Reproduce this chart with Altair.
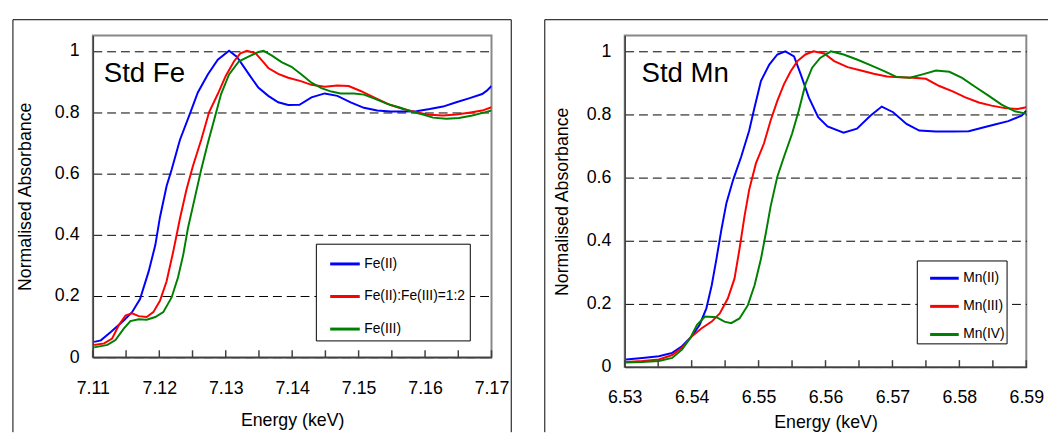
import altair as alt
import pandas as pd

FONT = "Liberation Sans"

# ---------------- Std Fe ----------------
fe_names = ["Fe(II)", "Fe(II):Fe(III)=1:2", "Fe(III)"]
fe_colors = ["#0000FF", "#FF0000", "#008000"]

fe2_e = [7.1102, 7.1112, 7.1127, 7.11465, 7.1159, 7.1171, 7.1184, 7.1194, 7.1201, 7.1211,
         7.12185, 7.1231, 7.1246, 7.1258, 7.1273, 7.1288, 7.1305, 7.1317, 7.1335, 7.1349,
         7.1364, 7.1379, 7.1394, 7.1411, 7.1429, 7.1449, 7.1468, 7.1488, 7.1508, 7.1528,
         7.1548, 7.1567, 7.1587, 7.1607, 7.1627, 7.1647, 7.1666, 7.1686, 7.1693, 7.17]
fe2_a = [0.05, 0.055, 0.082, 0.12, 0.147, 0.19, 0.28, 0.366, 0.457, 0.559,
         0.612, 0.709, 0.794, 0.864, 0.923, 0.971, 1.0, 0.98, 0.923, 0.88,
         0.853, 0.832, 0.823, 0.824, 0.848, 0.861, 0.853, 0.832, 0.814, 0.805,
         0.802, 0.802, 0.803, 0.81, 0.818, 0.832, 0.845, 0.859, 0.87, 0.885]

fe12_e = [7.1102, 7.1117, 7.1129, 7.1139, 7.1149, 7.1159, 7.1169, 7.1181, 7.1191, 7.1201,
          7.1211, 7.1221, 7.1231, 7.1241, 7.12505, 7.1263, 7.1275, 7.1288, 7.13, 7.13125,
          7.1322, 7.1332, 7.1345, 7.1357, 7.1364, 7.1379, 7.1394, 7.1413, 7.1429, 7.1449,
          7.1468, 7.1485, 7.1503, 7.1523, 7.1548, 7.1567, 7.1587, 7.1607, 7.1627, 7.1647,
          7.1666, 7.1686, 7.17]
fe12_a = [0.04, 0.045, 0.061, 0.104, 0.136, 0.143, 0.134, 0.131, 0.147, 0.184,
          0.248, 0.345, 0.452, 0.548, 0.623, 0.709, 0.8, 0.859, 0.918, 0.966,
          0.992, 1.0, 0.992, 0.962, 0.944, 0.925, 0.912, 0.901, 0.889, 0.883,
          0.887, 0.885, 0.869, 0.848, 0.823, 0.81, 0.8, 0.791, 0.789, 0.792,
          0.798, 0.805, 0.816]

fe3_e = [7.1102, 7.1122, 7.1134, 7.11465, 7.11565, 7.1169, 7.1181, 7.1194, 7.1206, 7.12185,
         7.1228, 7.1236, 7.1243, 7.1253, 7.1263, 7.1273, 7.1283, 7.1293, 7.1305, 7.132,
         7.1335, 7.1349, 7.1357, 7.1369, 7.1384, 7.1399, 7.1414, 7.1429, 7.1444, 7.1459,
         7.1473, 7.1493, 7.1508, 7.1523, 7.1543, 7.1563, 7.1582, 7.1597, 7.1612, 7.1632,
         7.1651, 7.1671, 7.1691, 7.17]
fe3_a = [0.032, 0.04, 0.056, 0.093, 0.118, 0.124, 0.122, 0.131, 0.147, 0.195,
         0.259, 0.334, 0.42, 0.516, 0.612, 0.698, 0.778, 0.859, 0.923, 0.966,
         0.982, 0.996, 1.0, 0.985, 0.963, 0.948, 0.923, 0.896, 0.878, 0.867,
         0.861, 0.861, 0.857, 0.845, 0.827, 0.814, 0.8, 0.792, 0.782, 0.778,
         0.781, 0.789, 0.8, 0.805]

fe_label_ticks = [7.11, 7.12, 7.13, 7.14, 7.15, 7.16, 7.17]
fe_minor_ticks = [7.11, 7.115, 7.12, 7.125, 7.13, 7.135, 7.14, 7.145, 7.15, 7.155,
                  7.16, 7.165, 7.17]

# ---------------- Std Mn ----------------
mn_names = ["Mn(II)", "Mn(III)", "Mn(IV)"]
mn_colors = ["#0000FF", "#FF0000", "#008000"]

mn2_e = [6.5302, 6.53265, 6.5351, 6.5371, 6.53855, 6.54, 6.5412, 6.5422, 6.543, 6.5437,
         6.54445, 6.5452, 6.5462, 6.5474, 6.5486, 6.5494, 6.55035, 6.5516, 6.5528, 6.554,
         6.5553, 6.5563, 6.5575, 6.5589, 6.5603, 6.5627, 6.5647, 6.5667, 6.5684, 6.5701,
         6.5721, 6.574, 6.5765, 6.5789, 6.5814, 6.5834, 6.5853, 6.5873, 6.5893, 6.59]
mn2_a = [0.024, 0.029, 0.034, 0.045, 0.066, 0.097, 0.134, 0.186, 0.259, 0.342,
         0.436, 0.52, 0.593, 0.666, 0.749, 0.823, 0.906, 0.958, 0.99, 1.0,
         0.984, 0.927, 0.854, 0.791, 0.762, 0.742, 0.755, 0.796, 0.825, 0.807,
         0.77, 0.749, 0.746, 0.746, 0.747, 0.758, 0.768, 0.779, 0.796, 0.812]

mn3_e = [6.5302, 6.53265, 6.5351, 6.5371, 6.53855, 6.54, 6.5415, 6.543, 6.5442, 6.5454,
         6.5464, 6.54715, 6.5479, 6.5486, 6.5496, 6.5508, 6.5518, 6.5528, 6.5538, 6.5548,
         6.5558, 6.557, 6.5582, 6.5598, 6.5613, 6.5633, 6.5653, 6.5672, 6.5692, 6.5711,
         6.5731, 6.575, 6.577, 6.579, 6.5809, 6.5829, 6.5848, 6.5868, 6.5887, 6.59]
mn3_a = [0.016, 0.019, 0.024, 0.038, 0.061, 0.097, 0.123, 0.144, 0.17, 0.217,
         0.28, 0.374, 0.478, 0.562, 0.645, 0.708, 0.781, 0.843, 0.896, 0.937,
         0.969, 0.99, 1.0, 0.993, 0.969, 0.95, 0.939, 0.929, 0.92, 0.918,
         0.916, 0.913, 0.89, 0.873, 0.854, 0.838, 0.828, 0.82, 0.817, 0.823]

mn4_e = [6.5302, 6.53265, 6.5351, 6.5371, 6.53855, 6.5398, 6.5408, 6.542, 6.5437, 6.5449,
         6.5459, 6.54715, 6.5484, 6.5494, 6.55035, 6.5511, 6.5518, 6.5528, 6.5538, 6.555,
         6.556, 6.557, 6.558, 6.5592, 6.5608, 6.5627, 6.5647, 6.5667, 6.5686, 6.5706,
         6.5726, 6.5745, 6.5765, 6.5785, 6.5804, 6.5824, 6.5844, 6.5863, 6.5883, 6.59]
mn4_a = [0.014, 0.016, 0.019, 0.029, 0.055, 0.092, 0.134, 0.16, 0.158, 0.144,
         0.139, 0.154, 0.196, 0.259, 0.342, 0.426, 0.509, 0.603, 0.666, 0.739,
         0.812, 0.896, 0.948, 0.979, 1.0, 0.99, 0.974, 0.956, 0.939, 0.919,
         0.916, 0.927, 0.939, 0.935, 0.916, 0.887, 0.859, 0.831, 0.81, 0.802]

mn_label_ticks = [6.53, 6.54, 6.55, 6.56, 6.57, 6.58, 6.59]
mn_minor_ticks = [6.53, 6.535, 6.54, 6.545, 6.55, 6.555, 6.56, 6.565, 6.57, 6.575,
                  6.58, 6.585, 6.59]

y_ticks = [0, 0.2, 0.4, 0.6, 0.8, 1]


def long_df(series, names):
    frames = []
    for (e, a), n in zip(series, names):
        frames.append(pd.DataFrame({"E": e, "A": a, "S": n}))
    return pd.concat(frames, ignore_index=True)


def panel(df, names, colors, dom, label_ticks, minor_ticks, w, h, label, label_x,
          leg_x, leg_y, sym_size, row_pad, leg_pad, sym_off, x_lab_pad, x_title_pad,
          y_title_pad, frame_right):
    one = pd.DataFrame({"k": [0]})
    x_enc = alt.X("E:Q", scale=alt.Scale(domain=dom, nice=False, zero=False),
                  axis=alt.Axis(values=label_ticks, format=".2f", title="Energy (keV)",
                                tickSize=0, grid=False, labelFlush=False,
                                labelOverlap=False, labelPadding=x_lab_pad,
                                titlePadding=x_title_pad))
    lines = alt.Chart(df).mark_line(strokeWidth=2, clip=True).encode(
        x=x_enc,
        y=alt.Y("A:Q", scale=alt.Scale(domain=[0, 1.05], nice=False, zero=True),
                axis=alt.Axis(values=y_ticks, format="~g", grid=True,
                              gridDash=[9, 5], gridColor="#000000", gridWidth=1,
                              tickSize=0, labelPadding=14,
                              title="Normalised Absorbance",
                              titlePadding=y_title_pad)),
        color=alt.Color("S:N", sort=names,
                        scale=alt.Scale(domain=names, range=colors),
                        legend=alt.Legend(title=None, orient="none",
                                          legendX=leg_x, legendY=leg_y,
                                          strokeColor="#000000", fillColor="white",
                                          padding=leg_pad, symbolOffset=sym_off,
                                          symbolType="stroke",
                                          symbolSize=sym_size, symbolStrokeWidth=3,
                                          labelFontSize=14, labelFont=FONT,
                                          labelColor="#000000", labelOffset=3,
                                          rowPadding=row_pad, labelLimit=300)),
    )
    ticks = alt.Chart(pd.DataFrame({"E": minor_ticks})).mark_rule(
        color="#404040", strokeWidth=1.5).encode(
        x=x_enc, y=alt.value(h), y2=alt.value(h - 7))
    text = alt.Chart(one).mark_text(text=label, fontSize=28, font=FONT,
                                    align="left", baseline="alphabetic",
                                    color="#000000").encode(
        x=alt.value(label_x), y=alt.value(47))
    f_top = alt.Chart(one).mark_rule(color="#000000", strokeWidth=1).encode(
        x=alt.value(-81), x2=alt.value(frame_right), y=alt.value(-16))
    f_left = alt.Chart(one).mark_rule(color="#000000", strokeWidth=1).encode(
        x=alt.value(-81), y=alt.value(-16), y2=alt.value(402))
    layers = [f_top, f_left, lines, ticks, text]
    if frame_right < 428:
        f_right = alt.Chart(one).mark_rule(color="#000000", strokeWidth=1).encode(
            x=alt.value(frame_right), y=alt.value(-16), y2=alt.value(402))
        layers.append(f_right)
    return alt.layer(*layers).properties(width=w, height=h)


fe_df = long_df([(fe2_e, fe2_a), (fe12_e, fe12_a), (fe3_e, fe3_a)], fe_names)
mn_df = long_df([(mn2_e, mn2_a), (mn3_e, mn3_a), (mn4_e, mn4_a)], mn_names)

left = panel(fe_df, fe_names, fe_colors, [7.11, 7.17], fe_label_ticks, fe_minor_ticks,
             404, 326, "Std Fe", 11, 226, 211, 900, 9, 4, 9, 23, 14, 20, 424)
right = panel(mn_df, mn_names, mn_colors, [6.53, 6.59], mn_label_ticks, mn_minor_ticks,
              407, 336, "Std Mn", 17, 296, 228, 841, 5.5, 2, 10, 22, 7, 15, 429)

chart = alt.hconcat(left, right, spacing=30).resolve_scale(
    color="independent", x="independent", y="independent"
).resolve_legend(color="independent").properties(
    padding={"left": 3, "top": 7, "right": 0, "bottom": 0}
).configure(font=FONT).configure_view(
    stroke="#888888", strokeWidth=2
).configure_axis(
    labelFont=FONT, titleFont=FONT, labelFontSize=18, titleFontSize=18,
    titleFontWeight="normal", labelColor="#000000", titleColor="#000000",
    domainColor="#404040", domainWidth=1.5
).configure_legend(cornerRadius=0, strokeWidth=1)

chart.save("out.html", embed_options={"renderer": "svg", "actions": False})
